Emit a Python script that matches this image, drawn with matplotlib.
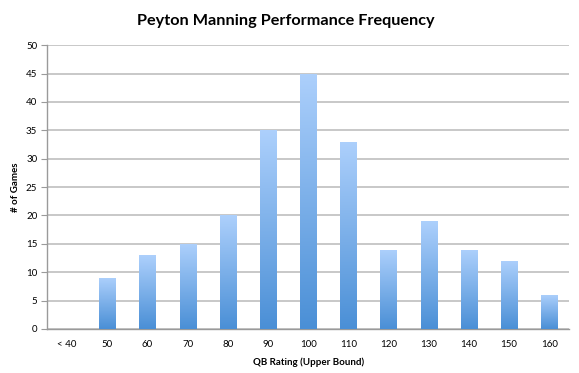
import matplotlib
matplotlib.use("Agg")
import matplotlib.pyplot as plt
import numpy as np
from matplotlib.colors import LinearSegmentedColormap

categories = ["< 40", "50", "60", "70", "80", "90", "100", "110", "120", "130", "140", "150", "160"]
games = [0, 9, 13, 15, 20, 35, 45, 33, 14, 19, 14, 12, 6]

plt.rcParams['font.family'] = ['Lato', 'DejaVu Sans']

fig = plt.figure(figsize=(5.79, 3.73), dpi=100)
ax = fig.add_axes([0.0812, 0.118, 0.902, 0.761])

x = np.arange(len(categories))
width = 0.4
bars = ax.bar(x, games, width=width, color='none', edgecolor='none', zorder=3)

cmap = LinearSegmentedColormap.from_list("g", ["#4a8fd6", "#add0fc"])
grad = np.linspace(0, 1, 256).reshape(-1, 1)
for b in bars:
    h = b.get_height()
    if h <= 0:
        continue
    x0 = b.get_x()
    im = ax.imshow(grad, cmap=cmap, origin='lower', aspect='auto',
                   extent=[x0, x0 + b.get_width(), 0, h], zorder=3)
    im.set_clip_path(b)

ax.set_xlim(-0.5, len(categories) - 0.5)
ax.set_ylim(0, 50)
ax.set_yticks(np.arange(0, 51, 5))
ax.set_xticks(x)
ax.set_xticklabels(categories)
ax.yaxis.grid(True, color='#bfbfbf', linewidth=1.2, zorder=0)
ax.set_axisbelow(True)
for s in ['top', 'right']:
    ax.spines[s].set_visible(False)
for s in ['left', 'bottom']:
    ax.spines[s].set_color('#9a9a9a')
    ax.spines[s].set_linewidth(1.0)
ax.tick_params(axis='y', length=4, color='#9a9a9a', labelsize=7, pad=3)
ax.tick_params(axis='x', length=0, labelsize=7, pad=8)

fig.text(0.493, 0.945, "Peyton Manning Performance Frequency", fontsize=11.7,
         fontweight='bold', ha='center', va='center')
ax.set_xlabel("QB Rating (Upper Bound)", fontsize=7, fontweight='bold', labelpad=6)
ax.set_ylabel("# of Games", fontsize=7, fontweight='bold', labelpad=4)

fig.savefig("out.png", dpi=100)
